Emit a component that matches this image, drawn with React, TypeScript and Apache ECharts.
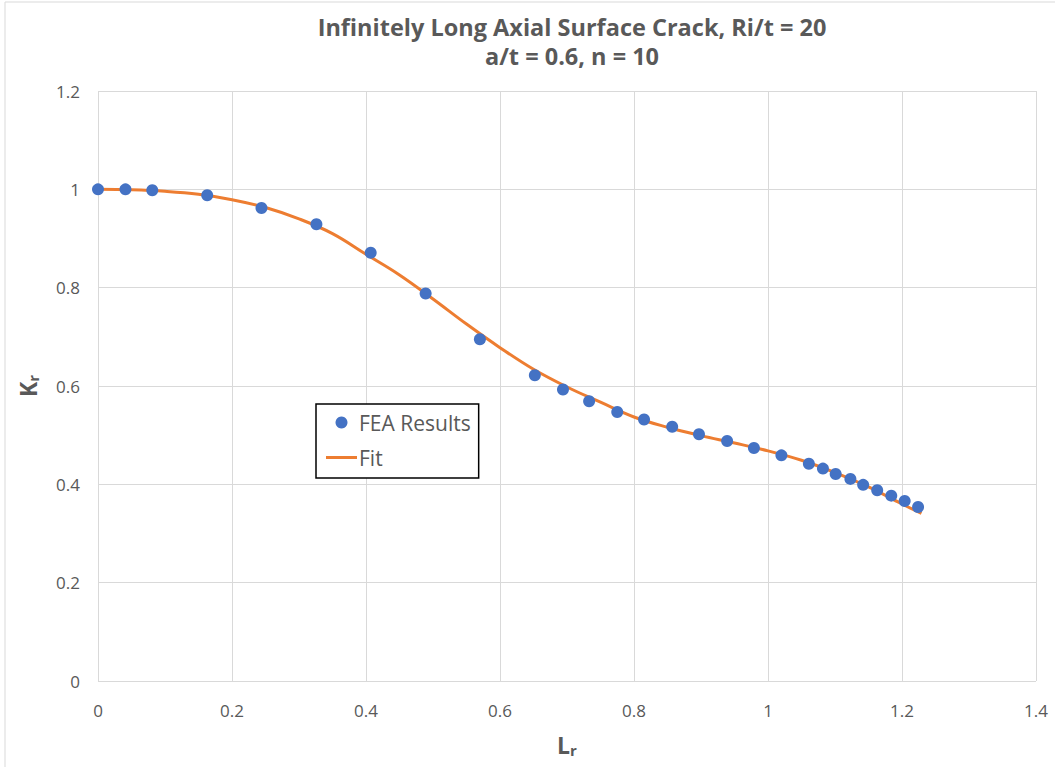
import React, { useEffect, useRef } from "react";
import * as echarts from "echarts";

const feaX = [0, 0.041, 0.081, 0.163, 0.244, 0.326, 0.407, 0.489, 0.570, 0.652, 0.694, 0.733, 0.775, 0.815, 0.857, 0.897, 0.939, 0.979, 1.020, 1.061, 1.082, 1.101, 1.123, 1.142, 1.163, 1.184, 1.204, 1.224];
const feaY = [1.0, 1.0, 0.998, 0.988, 0.962, 0.929, 0.871, 0.788, 0.695, 0.622, 0.593, 0.569, 0.547, 0.532, 0.517, 0.502, 0.488, 0.474, 0.459, 0.442, 0.432, 0.421, 0.411, 0.399, 0.388, 0.377, 0.366, 0.354];

const fitX = [0, 0.05, 0.1, 0.15, 0.2, 0.25, 0.3, 0.35, 0.4, 0.45, 0.5, 0.55, 0.6, 0.65, 0.7, 0.75, 0.8, 0.85, 0.9, 0.95, 1.0, 1.05, 1.1, 1.15, 1.2, 1.229];
const fitY = [1.0, 0.999, 0.996, 0.99, 0.979, 0.963, 0.94, 0.91, 0.868, 0.826, 0.777, 0.726, 0.678, 0.634, 0.598, 0.567, 0.537, 0.516, 0.499, 0.484, 0.468, 0.449, 0.424, 0.395, 0.36, 0.341];

const titleLines = ["Infinitely Long Axial Surface Crack, Ri/t = 20", "a/t = 0.6, n = 10"];

export default function App() {
  const ref = useRef<HTMLDivElement>(null);
  useEffect(() => {
    if (!ref.current) return;
    const chart = echarts.init(ref.current, null, { renderer: "svg" });
    const font = "'Open Sans', 'Noto Sans', sans-serif";
    const grey = "#595959";
    chart.setOption({
      animation: false,
      backgroundColor: "#ffffff",
      textStyle: { fontFamily: font },
      title: {
        text: titleLines.join("\n"),
        left: 567,
        top: 7,
        textAlign: "center",
        textStyle: { fontFamily: font, fontSize: 23.5, fontWeight: "bold", color: grey, lineHeight: 29 },
      },
      graphic: [
        {
          type: "rect",
          shape: { x: 5, y: 2, width: 1060, height: 780 },
          style: { fill: "none", stroke: "#d9d9d9", lineWidth: 1 },
          silent: true,
          z: -1,
        },
      ],
      legend: {
        left: 316,
        top: 404,
        orient: "vertical",
        itemGap: 14,
        padding: [8, 8, 10, 10],
        borderColor: "#000",
        borderWidth: 1.5,
        backgroundColor: "#fff",
        itemWidth: 31,
        itemHeight: 12,
        textStyle: { fontFamily: font, fontSize: 21, color: grey, padding: [0, 0, 0, -3] },
        data: [
          { name: "FEA Results", icon: "circle" },
          { name: "Fit", icon: "path://M0,0 L31,0 L31,3 L0,3 Z", itemStyle: { color: "#ED7D31" } },
        ],
      },
      grid: { left: 98, right: 19, top: 91, bottom: 86, containLabel: false },
      xAxis: {
        type: "value",
        min: 0,
        max: 1.4,
        interval: 0.2,
        name: "{b|L}{s|r}",
        nameLocation: "middle",
        nameGap: 51,
        nameTextStyle: {
          rich: {
            b: { fontFamily: font, fontSize: 23, fontWeight: "bold", color: grey },
            s: { fontFamily: font, fontSize: 15, fontWeight: "bold", color: grey, verticalAlign: "bottom", padding: [10, 0, 0, 0] },
          },
        },
        axisLine: { show: false },
        axisTick: { show: false },
        axisLabel: { fontFamily: font, fontSize: 17, color: grey, margin: 21, formatter: (v: number) => String(Math.round(v * 10) / 10) },
        splitLine: { show: true, lineStyle: { color: "#d9d9d9", width: 1 } },
      },
      yAxis: {
        type: "value",
        min: 0,
        max: 1.2,
        interval: 0.2,
        name: "{b|K}{s|r}",
        nameLocation: "middle",
        nameGap: 58,
        nameRotate: 90,
        nameTextStyle: {
          rich: {
            b: { fontFamily: font, fontSize: 23, fontWeight: "bold", color: grey },
            s: { fontFamily: font, fontSize: 15, fontWeight: "bold", color: grey, verticalAlign: "bottom", padding: [10, 0, 0, 0] },
          },
        },
        axisLine: { show: false },
        axisTick: { show: false },
        axisLabel: { fontFamily: font, fontSize: 17, color: grey, margin: 18, formatter: (v: number) => String(Math.round(v * 10) / 10) },
        splitLine: { show: true, lineStyle: { color: "#d9d9d9", width: 1 } },
      },
      series: [
        {
          name: "Fit",
          type: "line",
          data: fitX.map((x, i) => [x, fitY[i]]),
          smooth: 0.4,
          showSymbol: false,
          symbol: "none",
          lineStyle: { color: "#ED7D31", width: 3 },
          itemStyle: { color: "#ED7D31" },
          z: 2,
        },
        {
          name: "FEA Results",
          type: "scatter",
          data: feaX.map((x, i) => [x, feaY[i]]),
          symbol: "circle",
          symbolSize: 12,
          itemStyle: { color: "#4472C4", opacity: 1 },
          z: 3,
        },
      ],
    });
    return () => chart.dispose();
  }, []);
  return <div ref={ref} style={{ position: "fixed", left: 0, top: 0, width: 1055, height: 767 }} />;
}
